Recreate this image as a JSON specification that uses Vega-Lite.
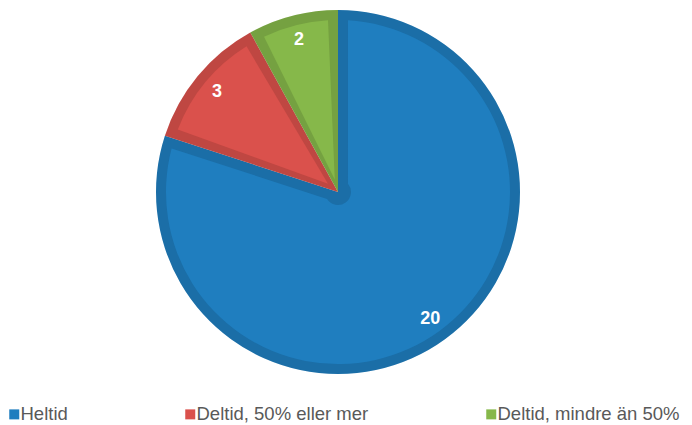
{
  "$schema": "https://vega.github.io/schema/vega-lite/v6.json",
  "width": 676,
  "height": 384,
  "autosize": {"type": "none"},
  "padding": {"left": 0, "top": 0, "right": 16, "bottom": 41},
  "background": "white",
  "view": {"stroke": null},
  "data": {
    "values": [
      {"kategori": "Heltid", "antal": 20, "ordning": 1},
      {"kategori": "Deltid, 50% eller mer", "antal": 3, "ordning": 2},
      {"kategori": "Deltid, mindre än 50%", "antal": 2, "ordning": 3}
    ]
  },
  "encoding": {
    "theta": {"field": "antal", "type": "quantitative", "stack": true},
    "order": {"field": "ordning", "type": "quantitative"},
    "color": {
      "field": "kategori",
      "type": "nominal",
      "scale": {
        "domain": ["Heltid", "Deltid, 50% eller mer", "Deltid, mindre än 50%"],
        "range": ["#1f7ebf", "#da514c", "#86b84a"]
      },
      "legend": {
        "title": null,
        "orient": "none",
        "legendX": 5,
        "legendY": 405,
        "direction": "horizontal",
        "columns": 3,
        "columnPadding": 113,
        "symbolType": "square",
        "symbolSize": 100,
        "symbolStrokeWidth": 0,
        "symbolOpacity": 1,
        "labelFont": "Liberation Sans",
        "labelFontSize": 18.5,
        "labelColor": "#595959",
        "labelOffset": -3,
        "labelLimit": 300
      }
    }
  },
  "layer": [
    {
      "mark": {"type": "arc", "outerRadius": 182}
    },
    {
      "mark": {"type": "arc", "outerRadius": 182, "opacity": 0.12},
      "encoding": {"color": {"value": "black"}}
    },
    {
      "mark": {"type": "arc", "outerRadius": 172, "innerRadius": 13, "padAngle": 0.116}
    },
    {
      "mark": {"type": "text", "radius": 157, "font": "Liberation Sans", "fontSize": 18, "fontWeight": "bold"},
      "encoding": {
        "text": {"field": "antal", "type": "quantitative"},
        "color": {"value": "white"}
      }
    }
  ]
}
